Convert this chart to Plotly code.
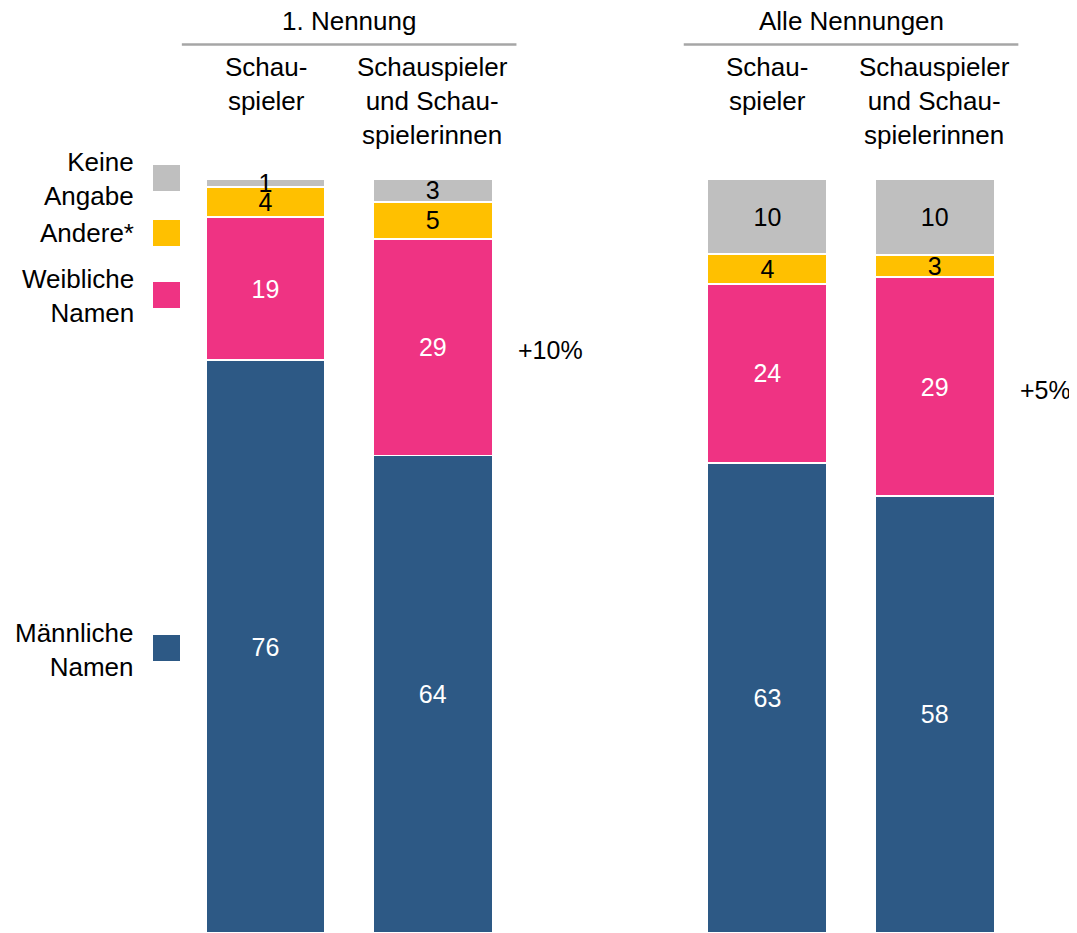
import plotly.graph_objects as go

# ---- data ----
groups = ["1. Nennung", "Alle Nennungen"]
categories = ["Schau-<br>spieler", "Schauspieler<br>und Schau-<br>spielerinnen",
              "Schau-<br>spieler", "Schauspieler<br>und Schau-<br>spielerinnen"]
group_of = [0, 0, 1, 1]
maennlich = [76, 64, 63, 58]
weiblich = [19, 29, 24, 29]
andere = [4, 5, 4, 3]
keine = [1, 3, 10, 10]
series_names = ["Männliche<br>Namen", "Weibliche<br>Namen", "Andere*", "Keine<br>Angabe"]

# ---- styling ----
FONT = "Arial, Liberation Sans, sans-serif"
colors = ["#2D5985", "#EF3383", "#FFC000", "#BFBFBF"]
text_colors = ["#FFFFFF", "#FFFFFF", "#000000", "#000000"]

W, H = 1077, 933
OFF = 8  # page offset of the figure inside the browser window


def px(x):
    return (x - OFF) / W


def py(y):
    return 1 - (y - OFF) / H


# x positions: two groups of two bars with a one-slot gap
xpos = [g * 3 + (i % 2) for i, g in enumerate(group_of)]

series = [maennlich, weiblich, andere, keine]
totals = [sum(s[i] for s in series) for i in range(len(categories))]
shares = [[v / t * 100 for v, t in zip(s, totals)] for s in series]

fig = go.Figure()
for name, vals, sh, col, tcol in zip(series_names, series, shares, colors, text_colors):
    fig.add_trace(go.Bar(
        x=xpos, y=sh, name=name, width=0.715,
        marker=dict(color=col, line=dict(color="white", width=1.8)),
        text=[str(v) for v in vals], textposition="inside", textangle=0,
        insidetextanchor="middle", constraintext="none",
        textfont=dict(family=FONT, size=25, color=tcol),
        showlegend=False, hoverinfo="skip",
    ))

unit = 167.3          # px per x unit
bar0_px = 265.5 - OFF  # figure px of first bar centre
x_lo = -bar0_px / unit
x_hi = (W - bar0_px) / unit
yscale = 7.537        # px per percent
base_px = 933 - OFF   # figure px of y=0
y_lo = -(H - base_px) / yscale
y_hi = base_px / yscale

fig.update_layout(
    barmode="stack", width=W, height=H,
    margin=dict(l=0, r=0, t=0, b=0),
    plot_bgcolor="white", paper_bgcolor="white",
    xaxis=dict(range=[x_lo, x_hi], visible=False, fixedrange=True),
    yaxis=dict(range=[y_lo, y_hi], visible=False, fixedrange=True),
    font=dict(family=FONT, size=26, color="#000000"),
)

ann = []
shapes = []
# group headers and rule lines
for g, gname in enumerate(groups):
    xs = [x for x, gg in zip(xpos, group_of) if gg == g]
    mid = sum(xs) / len(xs)
    ann.append(dict(x=mid, xref="x", y=py(21), yref="paper", text=gname,
                    showarrow=False, xanchor="center", yanchor="middle",
                    borderpad=0))
    shapes.append(dict(type="line", xref="x", yref="paper",
                       x0=min(xs) - 0.5, x1=max(xs) + 0.5,
                       y0=py(44.5), y1=py(44.5),
                       line=dict(color="#A6A6A6", width=2.5)))
# category labels
for x, c in zip(xpos, categories):
    ann.append(dict(x=x, xref="x", y=py(50), yref="paper", text=c,
                    showarrow=False, xanchor="center", yanchor="top"))

# difference labels (female names vs. actors-only wording)
for g in range(len(groups)):
    a, b = [i for i, gg in enumerate(group_of) if gg == g]
    diff = weiblich[b] - weiblich[a]
    ymid = shares[0][b] + shares[1][b] / 2
    ann.append(dict(x=xpos[b] + 0.5, xref="x", y=ymid, yref="y",
                    text=f"+{diff}%", showarrow=False, xanchor="left",
                    yanchor="middle", yshift=-3, font=dict(size=25)))

# custom legend (label right-aligned, square to the right)
legend_y = [648, 295, 233, 178]
label_y = [650, 296, 233, 179]
for name, col, yc, yl in zip(series_names, colors, legend_y, label_y):
    ann.append(dict(x=px(136), xref="paper", y=py(yl), yref="paper",
                    text=name, showarrow=False, xanchor="right", yanchor="middle",
                    align="right"))
    shapes.append(dict(type="rect", xref="paper", yref="paper",
                       x0=px(153), x1=px(180),
                       y0=py(yc + 13), y1=py(yc - 13),
                       fillcolor=col, line=dict(width=0)))

fig.update_layout(annotations=ann, shapes=shapes)
fig.write_html("out.html")
